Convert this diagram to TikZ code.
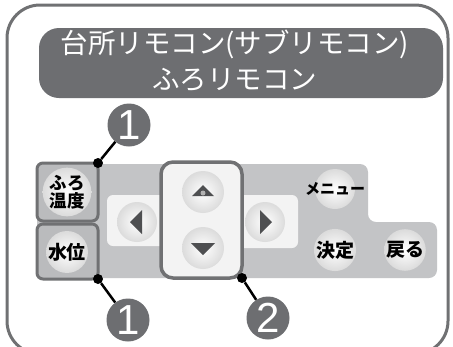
\documentclass[tikz,border=0pt]{standalone}
\usepackage{fontspec}
\newfontfamily\jpfont{Noto Sans CJK JP}
\setsansfont{Liberation Sans}
\usetikzlibrary{positioning,calc}
\definecolor{framegray}{HTML}{707173}
\definecolor{bannergray}{HTML}{6D6E71}
\definecolor{panelgray}{HTML}{C3C4C6}
\definecolor{keygray}{HTML}{BABBBD}
\definecolor{padlight}{HTML}{F3F3F3}
\definecolor{arrowgray}{HTML}{4E4F51}
\tikzset{
  btn/.style={circle, minimum size=41pt, inner sep=0pt, shading=radial,
    inner color=white, outer color=gray!28, align=center,
    font=\jpfont\bfseries\fontsize{19}{19}\selectfont},
  keybox/.style={draw=framegray, line width=3pt, rounded corners=6pt, fill=keygray},
  padbox/.style={draw=framegray, line width=3.5pt, rounded corners=12pt, fill=padlight},
  marker/.style={circle, fill=bannergray, minimum size=43pt, inner sep=0pt,
    text=white, font=\sffamily\fontsize{42}{42}\selectfont},
  pin/.style={circle, fill=black, minimum size=10pt, inner sep=0pt},
  lead/.style={line width=2.5pt, black},
  tri/.style={fill=arrowgray}
}
\begin{document}
\begin{tikzpicture}[x=1pt, y=-1pt]
  \useasboundingbox (0,0) rectangle (453,346);
  \clip (0,0) rectangle (453,346);

  % outer frame and title
  \draw[framegray, line width=3pt, fill=white, rounded corners=33pt] (7,5) rectangle (448,354);
  \fill[bannergray, rounded corners=20pt] (39,28) rectangle (443,98);
  \node[text=white, font=\jpfont\fontsize{27.5}{36}\selectfont, align=center] (title) at (235,61)
    {台所リモコン(サブリモコン)\\ふろリモコン};

  % panel
  \fill[panelgray, rounded corners=8pt] (37,164) -- (368,164) -- (368,222) -- (437,222)
    -- (437,278) -- (37,278) -- cycle;
  \fill[padlight, rounded corners=6pt] (107,195) rectangle (175,246);
  \fill[padlight, rounded corners=6pt] (230,195) rectangle (298,248);
  \draw[keybox] (37,163) rectangle (98,221);
  \draw[keybox] (37,224) rectangle (98,279);
  \draw[padbox] (161,162) rectangle (242,278);

  % buttons
  \node[btn, font=\jpfont\bfseries\fontsize{17.5}{18}\selectfont] (temp) at (67,192) {ふろ\\温度};
  \node[btn] (level) at (67,252) {水位};
  \node[btn, minimum size=40pt] (left) at (137,222) {};
  \node[btn, minimum size=40pt] (right) at (265,222) {};
  \node[btn, minimum size=42pt] (up) at (203,192) {};
  \node[btn, minimum size=42pt] (down) at (203,248) {};
  \node[btn, minimum size=40pt] (menu) at (335,189) {};
  \node[font=\jpfont\bfseries\fontsize{15}{15}\selectfont] (menutext) at (menu) {メニュー};
  \node[btn, minimum size=40pt] (enter) at (335,250) {決定};
  \node[btn, minimum size=40pt] (back) at (405,250) {戻る};

  % arrow marks
  \fill[tri] ($(up)+(-11,4)$) -- ($(up)+(11,4)$) -- ($(up)+(0,-7)$) -- cycle;
  \fill[gray!60] ($(up)+(0,1)$) circle (2.5pt);
  \fill[tri] ($(down)+(-12,-5)$) -- ($(down)+(12,-5)$) -- ($(down)+(0,7)$) -- cycle;
  \fill[tri] ($(left)+(5,-12)$) -- ($(left)+(5,12)$) -- ($(left)+(-7,0)$) -- cycle;
  \fill[tri] ($(right)+(-5,-12)$) -- ($(right)+(-5,12)$) -- ($(right)+(7,0)$) -- cycle;

  % callouts
  \node[marker] (mkA) at (129,125) {1};
  \node[marker] (mkB) at (128,320) {1};
  \node[marker] (mkC) at (268,318) {2};
  \node[pin] (pinA) at (98,163) {};
  \node[pin] (pinB) at (98,279) {};
  \node[pin] (pinC) at (242,278) {};
  \draw[lead] (pinA) -- (mkA);
  \draw[lead] (pinB) -- (mkB);
  \draw[lead] (pinC) -- (mkC);
\end{tikzpicture}
\end{document}
